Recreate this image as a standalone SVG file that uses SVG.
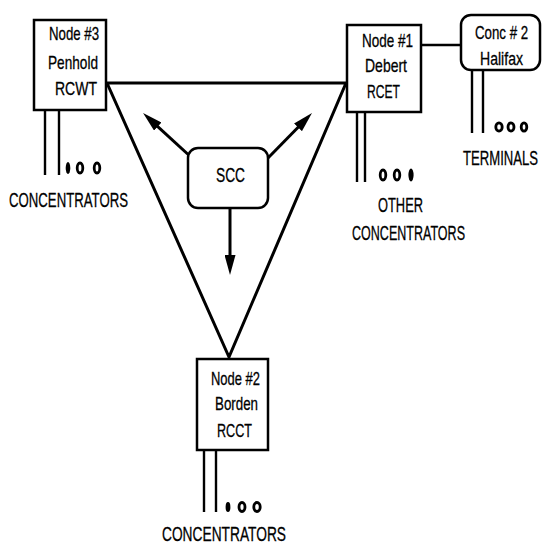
<svg xmlns="http://www.w3.org/2000/svg" width="543" height="547" viewBox="0 0 543 547">
<style>
.bg{fill:#fff}
.box{fill:#fff;stroke:#000;stroke-width:2.5}
.tri{fill:none;stroke:#000;stroke-width:3;stroke-linejoin:miter}
.ln{stroke:#000;stroke-width:2.4;fill:none}
.arr{stroke:#000;stroke-width:3;fill:none}
.dot{fill:#000}
.odot{fill:#fff;stroke:#000;stroke-width:2.8}
text{font-family:"Liberation Sans",Arial,sans-serif;fill:#000;stroke:#000;stroke-width:0.3}
.t{font-size:19px}
.lab{font-size:21px}
</style>
<defs>
<marker id="ah" markerUnits="userSpaceOnUse" markerWidth="20" markerHeight="11" refX="10" refY="5.5" orient="auto">
<path d="M0,0 L20,5.5 L0,11 Z" fill="#000"/>
</marker>
</defs>
<rect class="bg" x="0" y="0" width="543" height="547"/>
<g id="connectors">
<path class="tri" d="M107,83 L346,83 L229,357 Z"/>
<line class="ln" x1="421" y1="45" x2="461" y2="45"/>
<line class="arr" x1="230" y1="208" x2="230" y2="265" marker-end="url(#ah)"/>
<line class="arr" x1="192" y1="158" x2="150.4" y2="119.8" marker-end="url(#ah)"/>
<line class="arr" x1="268" y1="158" x2="305" y2="120.2" marker-end="url(#ah)"/>
<line class="ln" x1="45" y1="110" x2="45" y2="175"/>
<line class="ln" x1="59" y1="110" x2="59" y2="175"/>
<line class="ln" x1="357" y1="112" x2="357" y2="182"/>
<line class="ln" x1="365" y1="112" x2="365" y2="182"/>
<line class="ln" x1="204" y1="450" x2="204" y2="512"/>
<line class="ln" x1="216" y1="450" x2="216" y2="512"/>
<line class="ln" x1="472" y1="70" x2="472" y2="133"/>
<line class="ln" x1="483" y1="70" x2="483" y2="133"/>
</g>
<g id="node3">
<rect class="box" x="34" y="20" width="72" height="90"/>
<text class="t" x="49" y="40" textLength="50" lengthAdjust="spacingAndGlyphs">Node #3</text>
<text class="t" x="48" y="69" textLength="50" lengthAdjust="spacingAndGlyphs">Penhold</text>
<text class="t" x="55" y="95" textLength="42" lengthAdjust="spacingAndGlyphs">RCWT</text>
</g>
<g id="node3-concentrators">
<ellipse class="dot" cx="68" cy="168" rx="2.3" ry="6"/>
<ellipse class="odot" cx="80" cy="168" rx="2.8" ry="5"/>
<ellipse class="odot" cx="97" cy="168" rx="2.8" ry="5"/>
<text class="lab" x="9" y="207" textLength="119" lengthAdjust="spacingAndGlyphs">CONCENTRATORS</text>
</g>
<g id="node1">
<rect class="box" x="347" y="25" width="74" height="87"/>
<text class="t" x="362" y="47" textLength="51" lengthAdjust="spacingAndGlyphs">Node #1</text>
<text class="t" x="365" y="72" textLength="42" lengthAdjust="spacingAndGlyphs">Debert</text>
<text class="t" x="367" y="98" textLength="33" lengthAdjust="spacingAndGlyphs">RCET</text>
</g>
<g id="node1-concentrators">
<ellipse class="odot" cx="383" cy="175" rx="2.8" ry="5"/>
<ellipse class="odot" cx="397" cy="175" rx="2.8" ry="5"/>
<ellipse class="dot" cx="411" cy="175" rx="2.6" ry="6.5"/>
<text class="lab" x="378" y="212" textLength="45" lengthAdjust="spacingAndGlyphs">OTHER</text>
<text class="lab" x="352" y="240" textLength="113" lengthAdjust="spacingAndGlyphs">CONCENTRATORS</text>
</g>
<g id="conc2">
<rect class="box" x="461" y="15" width="79" height="55" rx="10" ry="10"/>
<text class="t" transform="translate(475,39) scale(0.7,1)" x="0" y="0">Conc # 2</text>
<text class="t" x="480" y="65" textLength="43" lengthAdjust="spacingAndGlyphs">Halifax</text>
</g>
<g id="terminals">
<ellipse class="odot" cx="499" cy="127" rx="3.2" ry="4.2"/>
<ellipse class="odot" cx="511" cy="127" rx="3" ry="4.2"/>
<ellipse class="odot" cx="524" cy="127" rx="2.8" ry="4.2"/>
<text class="lab" transform="translate(463,165) scale(0.625,1)" x="0" y="0">TERMINALS</text>
</g>
<g id="scc">
<rect class="box" x="188" y="148" width="80" height="60" rx="10" ry="10"/>
<text class="t" x="216" y="182" textLength="29" lengthAdjust="spacingAndGlyphs" style="font-size:20px">SCC</text>
</g>
<g id="node2">
<rect class="box" x="197" y="359" width="71" height="91"/>
<text class="t" x="211" y="385" textLength="49" lengthAdjust="spacingAndGlyphs">Node #2</text>
<text class="t" x="215" y="410" textLength="43" lengthAdjust="spacingAndGlyphs">Borden</text>
<text class="t" x="217" y="437" textLength="35" lengthAdjust="spacingAndGlyphs">RCCT</text>
</g>
<g id="node2-concentrators">
<ellipse class="dot" cx="228" cy="507" rx="2.4" ry="5"/>
<ellipse class="odot" cx="242" cy="507" rx="3" ry="4.5"/>
<ellipse class="odot" cx="257" cy="507" rx="3.2" ry="4.5"/>
<text class="lab" x="162" y="541" textLength="124" lengthAdjust="spacingAndGlyphs">CONCENTRATORS</text>
</g>
</svg>
